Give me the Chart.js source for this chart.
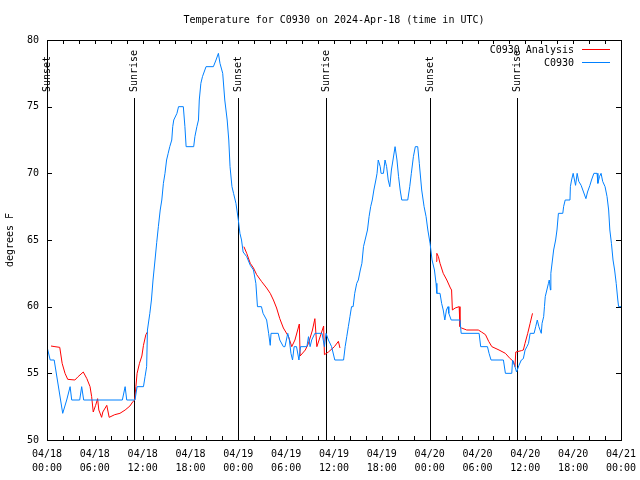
<!DOCTYPE html>
<html>
<head>
<meta charset="utf-8">
<script src="https://cdn.jsdelivr.net/npm/chart.js@4/dist/chart.umd.min.js"></script>
<style>
html,body{margin:0;padding:0;background:#fff;}
canvas{display:block;}
</style>
</head>
<body>
<canvas id="c" width="640" height="480"></canvas>
<script>
// ---- data (hours since 2024-04-18 00:00 UTC, temperature in F) ----
const obsHours = [0.0,0.4,0.9,1.97,2.47,2.9,3.1,4.1,4.35,4.6,9.45,9.8,10.0,10.8,11.04,11.3,12.1,12.3,12.5,12.6,
12.9,13.1,13.3,13.55,13.76,13.97,14.2,14.4,14.6,14.8,15.0,15.2,15.4,15.65,15.77,15.9,16.3,16.5,17.1,17.3,17.45,18.4,
18.55,18.8,19.0,19.1,19.3,19.5,19.8,19.95,20.87,21.2,21.5,21.7,22.04,22.3,22.6,22.8,22.96,23.2,23.4,23.7,24.0,
24.2,24.4,24.6,25.05,25.5,25.9,26.2,26.4,26.9,27.1,27.55,27.8,28.0,28.1,29.0,29.2,29.65,29.85,30.2,30.4,30.6,30.8,
31.0,31.3,31.6,31.8,32.6,32.8,33.0,33.2,33.6,34.5,34.8,35.0,35.3,35.7,36.1,37.2,37.4,37.6,37.8,38.0,38.2,38.4,38.6,
38.85,39.05,39.3,39.5,39.7,39.9,40.2,40.4,40.6,40.8,41.0,41.25,41.4,41.55,41.8,41.9,42.2,42.4,42.6,42.8,43.0,43.2,
43.4,43.66,43.9,44.1,44.3,44.5,45.25,45.5,45.7,45.96,46.2,46.5,46.7,47.0,47.3,47.55,47.77,48.05,48.3,48.6,48.8,48.9,
49.3,49.5,49.7,49.9,50.1,50.3,50.4,50.7,51.8,51.95,54.2,54.4,55.25,55.45,55.7,57.25,57.5,58.3,58.4,58.7,58.9,59.2,
59.5,59.75,59.97,60.2,60.4,60.6,61.1,61.3,61.5,61.7,62.0,62.1,62.3,62.4,62.5,62.7,62.9,63.0,63.15,63.2,63.4,63.55,
63.8,63.97,64.15,64.7,64.8,65.0,65.6,65.65,65.8,66.0,66.3,66.5,66.7,67.0,67.3,67.6,67.8,68.1,68.3,68.6,69.0,69.1,
69.3,69.5,69.7,70.0,70.25,70.45,70.6,70.8,71.0,71.2,71.4,71.6,71.7,72.0];
const obsTemps = [57,56,56,52,53,54,53,53,54,53,53,54,53,53,53,54,54,54.75,55.5,58.25,
59.5,60.5,62,63.5,64.8,66,67.25,68,69.25,70,71,71.5,72,72.5,73.5,74,74.5,75,75,73.5,72,72,
72.75,73.5,74,75.5,76.75,77.25,77.75,78,78,78.5,79,78.25,77.5,75.5,74,72.5,70.5,69,68.5,67.75,66.5,
65.5,65,64.1,63.75,63.1,62.75,61.75,60,60,59.5,59,58,57.1,58,58,57.5,57,57,58,57.5,56.5,56,
57,57,56,57,57,57.75,57,57.5,58,58,57,58,57.5,57,56,56,57,57.75,58.5,59.25,60,60,61,
61.75,62,62.75,63.25,64.5,65,65.75,66.75,67.5,68,68.75,69.5,70,71,70.5,70,70,71,70.5,69.5,69,70.25,
71,72,71,69.75,68.75,68,68,69,70,71.25,72,72,70.75,68.75,67.5,66.75,65.75,64.75,63.5,62.75,61.75,61,
61,60.25,59.75,59,59.75,60,59.5,59,59,58,58,57,57,56.5,56,56,55,55,56,55.5,55.1,55.6,
56,56.1,56.75,57,57.25,58,58,58.5,59,58.5,58,58.75,59.25,60,60.75,61.25,61.75,62,61.25,62.5,63.5,64.25,
65,65.75,67,67,67.5,68,68,69,69.5,70,69.1,70,69.4,69.1,68.6,68.1,68.6,69.1,69.5,70,70,69.25,
69.75,70,69.4,69,68.25,67.25,65.75,64.75,63.5,62.75,61.75,60.5,60,60];

// analysis series, null marks a gap between runs
const anaHours = [0.5,1.0,1.6,1.9,2.26,2.6,3.5,3.9,4.55,5.0,5.4,5.6,5.8,6.1,6.35,6.5,6.85,7.0,7.5,7.8,8.5,9.15,9.8,
10.4,10.8,11.0,11.15,11.3,11.6,11.9,12.1,12.4,12.6,
18.0,
24.7,25.05,25.5,25.9,26.3,26.9,27.55,28.0,28.4,28.8,29.2,29.65,30.3,30.7,31.1,31.65,31.75,32.4,32.8,33.3,33.6,33.85,
34.4,34.7,34.8,35.3,36.05,36.55,36.75,
42.0,
48.8,48.9,49.1,49.3,49.7,50.15,50.6,50.75,50.85,51.2,51.7,51.8,52.0,52.65,54.1,54.5,55.0,55.4,55.8,56.7,57.5,58.1,
58.5,58.7,58.8,59.5,59.75,59.96,60.3,60.6,60.9];
const anaTemps = [57.05,57,56.95,55.75,55,54.55,54.5,54.75,55.1,54.6,54,53.25,52.1,52.6,53.1,52.25,51.7,52.1,52.6,51.7,51.9,52,52.25,
52.55,52.9,53,54,55,55.75,56.3,57.1,57.9,58.1,
null,
64.5,64,63.25,62.9,62.4,61.9,61.4,61,60.5,59.9,59.1,58.4,57.75,57,57.5,58.7,56.3,56.75,57.25,58.25,59.1,57,
58,58.55,56.4,56.6,57,57.4,56.9,
null,
63.4,64,63.75,63.25,62.5,62,61.4,61.25,59.75,59.9,60,58.5,58.4,58.25,58.25,58.1,57.9,57.4,57,56.75,56.5,56.1,
55.9,55.5,56.6,56.7,56.75,57.25,58,58.75,59.5];

const sunsetHours = [0.0, 24.02, 48.08];
const sunriseHours = [10.95, 34.96, 59.0];

const xTickLabels = [['04/18','00:00'],['04/18','06:00'],['04/18','12:00'],['04/18','18:00'],
  ['04/19','00:00'],['04/19','06:00'],['04/19','12:00'],['04/19','18:00'],
  ['04/20','00:00'],['04/20','06:00'],['04/20','12:00'],['04/20','18:00'],['04/21','00:00']];
const yTickValues = [50,55,60,65,70,75,80];

const titleText = 'Temperature for C0930 on 2024-Apr-18 (time in UTC)';
const yAxisTitle = 'degrees F';
const seriesNames = ['C0930 Analysis', 'C0930'];
const seriesColors = ['#ff0000', '#0080ff'];

// ---- chart ----
const FONT = 'DejaVu Sans Mono';
const toXY = (hs, ts) => hs.map((h, i) => ({x: h, y: ts[i]}));

const decor = {
  id: 'decor',
  beforeDatasetsDraw(chart) {
    const ctx = chart.ctx, a = chart.chartArea;
    const xs = chart.scales.x, ys = chart.scales.y;
    ctx.save();
    ctx.strokeStyle = '#000';
    ctx.lineWidth = 1;
    ctx.beginPath();
    for (let h = 0; h <= 72; h += 2) {
      const px = Math.round(xs.getPixelForValue(h)) + 0.5;
      ctx.moveTo(px, a.bottom); ctx.lineTo(px, a.bottom - 4);
      ctx.moveTo(px, a.top); ctx.lineTo(px, a.top + 4);
    }
    yTickValues.forEach(v => {
      const py = Math.round(ys.getPixelForValue(v)) + 0.5;
      ctx.moveTo(a.left, py); ctx.lineTo(a.left + 5, py);
      ctx.moveTo(a.right, py); ctx.lineTo(a.right - 5, py);
    });
    ctx.stroke();
    ctx.font = '10px "' + FONT + '"';
    ctx.fillStyle = '#000';
    const mark = (h, txt) => {
      const px = Math.round(xs.getPixelForValue(h)) + 0.5;
      ctx.beginPath();
      ctx.moveTo(px, 98); ctx.lineTo(px, a.bottom);
      ctx.stroke();
      ctx.save();
      ctx.translate(px, 92);
      ctx.rotate(-Math.PI / 2);
      ctx.textAlign = 'left';
      ctx.textBaseline = 'middle';
      ctx.fillText(txt, 0, 0);
      ctx.restore();
    };
    sunsetHours.forEach(h => mark(h, 'Sunset'));
    sunriseHours.forEach(h => mark(h, 'Sunrise'));
    ctx.restore();
  },
  afterDraw(chart) {
    const ctx = chart.ctx, a = chart.chartArea;
    ctx.save();
    ctx.strokeStyle = '#000';
    ctx.lineWidth = 1;
    ctx.strokeRect(Math.round(a.left) + 0.5, Math.round(a.top) + 0.5,
                   Math.round(a.right - a.left), Math.round(a.bottom - a.top));
    ctx.font = '10px "' + FONT + '"';
    ctx.textAlign = 'right';
    ctx.textBaseline = 'middle';
    chart.data.datasets.forEach((ds, i) => {
      const y = 50 + i * 13;
      ctx.fillStyle = '#000';
      ctx.fillText(ds.label, a.right - 47, y);
      ctx.strokeStyle = ds.borderColor;
      ctx.beginPath();
      ctx.moveTo(a.right - 39, y - 0.5); ctx.lineTo(a.right - 11, y - 0.5);
      ctx.stroke();
    });
    ctx.restore();
  }
};

new Chart(document.getElementById('c'), {
  type: 'line',
  data: {
    datasets: [
      {label: seriesNames[0], data: toXY(anaHours, anaTemps), borderColor: seriesColors[0],
       borderWidth: 1, pointRadius: 0, tension: 0, spanGaps: false, fill: false, order: 2},
      {label: seriesNames[1], data: toXY(obsHours, obsTemps), borderColor: seriesColors[1],
       borderWidth: 1, pointRadius: 0, tension: 0, fill: false, order: 1}
    ]
  },
  options: {
    responsive: false,
    animation: false,
    devicePixelRatio: 1,
    layout: {padding: {left: 0, right: 19, top: 0, bottom: 0}},
    plugins: {
      legend: {display: false},
      tooltip: {enabled: false},
      title: {
        display: true, text: titleText, color: '#000', fullSize: false,
        font: {family: FONT, size: 10, weight: 'normal', lineHeight: 1.2},
        padding: {top: 14, bottom: 14}
      }
    },
    scales: {
      x: {
        type: 'linear', min: 0, max: 72,
        grid: {display: false, drawTicks: false},
        border: {display: false},
        ticks: {
          stepSize: 6, autoSkip: false, maxRotation: 0, padding: 7, color: '#000',
          font: {family: FONT, size: 10, lineHeight: 1.4},
          callback: v => xTickLabels[Math.round(v / 6)]
        },
        afterFit: s => { s.height = 40; s.paddingRight = 0; }
      },
      y: {
        type: 'linear', min: 50, max: 80,
        grid: {display: false, drawTicks: false},
        border: {display: false},
        ticks: {stepSize: 5, padding: 8, color: '#000', font: {family: FONT, size: 10}},
        title: {display: true, text: yAxisTitle, color: '#000',
                font: {family: FONT, size: 10, lineHeight: 1.2}, padding: {top: 4, bottom: 0}},
        afterFit: s => { s.width = 47; }
      }
    }
  },
  plugins: [decor]
});
</script>
</body>
</html>
